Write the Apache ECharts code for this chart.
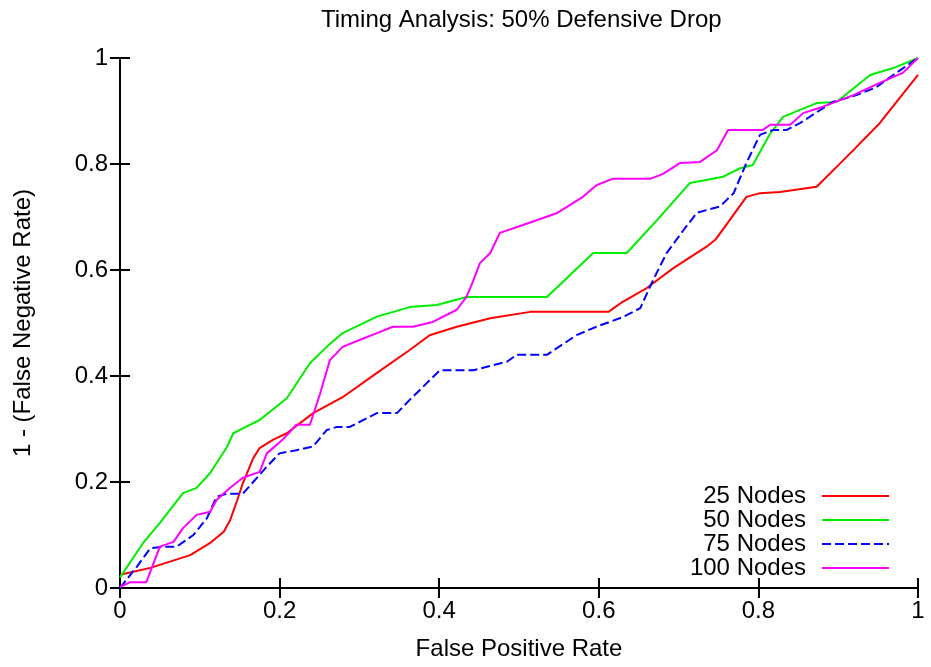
<!DOCTYPE html>
<html>
<head>
<meta charset="utf-8">
<script src="https://cdn.jsdelivr.net/npm/echarts@6/dist/echarts.min.js"></script>
<style>
  html, body { margin: 0; padding: 0; background: #fff; }
  #chart { width: 931px; height: 667px; }
</style>
</head>
<body>
<div id="chart"></div>
<script>
// ROC curves: [false positive rate, 1 - false negative rate]
const nodes25 = [
  [0, 0.025], [0.038, 0.038], [0.088, 0.062], [0.113, 0.085], [0.13, 0.106], [0.138, 0.128],
  [0.147, 0.166], [0.154, 0.198], [0.167, 0.245], [0.175, 0.264], [0.192, 0.28], [0.209, 0.292],
  [0.242, 0.33], [0.279, 0.36], [0.322, 0.406], [0.363, 0.449], [0.388, 0.477], [0.422, 0.493],
  [0.464, 0.509], [0.514, 0.521], [0.612, 0.521], [0.63, 0.54], [0.66, 0.566], [0.693, 0.603],
  [0.735, 0.644], [0.746, 0.657], [0.764, 0.694], [0.785, 0.738], [0.802, 0.745], [0.827, 0.747],
  [0.873, 0.757], [0.915, 0.82], [0.952, 0.877], [1, 0.968]
];
const nodes50 = [
  [0, 0.02], [0.029, 0.085], [0.05, 0.123], [0.079, 0.179], [0.096, 0.189], [0.113, 0.217],
  [0.134, 0.266], [0.142, 0.292], [0.154, 0.301], [0.175, 0.317], [0.209, 0.358], [0.238, 0.424],
  [0.259, 0.455], [0.279, 0.481], [0.322, 0.512], [0.363, 0.53], [0.397, 0.534], [0.434, 0.549],
  [0.535, 0.549], [0.593, 0.632], [0.635, 0.632], [0.673, 0.694], [0.714, 0.764], [0.756, 0.776],
  [0.777, 0.792], [0.793, 0.798], [0.815, 0.858], [0.831, 0.889], [0.852, 0.902], [0.873, 0.915],
  [0.898, 0.917], [0.94, 0.968], [0.969, 0.981], [1, 1]
];
const nodes75 = [
  [0, 0], [0.021, 0.04], [0.038, 0.075], [0.054, 0.078], [0.071, 0.078], [0.092, 0.1],
  [0.109, 0.132], [0.121, 0.172], [0.134, 0.178], [0.154, 0.178], [0.167, 0.2], [0.184, 0.229],
  [0.2, 0.254], [0.221, 0.26], [0.242, 0.267], [0.259, 0.298], [0.272, 0.304], [0.288, 0.304],
  [0.322, 0.33], [0.347, 0.33], [0.363, 0.355], [0.401, 0.411], [0.443, 0.411], [0.485, 0.427],
  [0.497, 0.44], [0.535, 0.44], [0.572, 0.477], [0.597, 0.493], [0.63, 0.511], [0.652, 0.528],
  [0.664, 0.568], [0.673, 0.596], [0.685, 0.632], [0.706, 0.675], [0.723, 0.708], [0.752, 0.72],
  [0.769, 0.745], [0.785, 0.802], [0.802, 0.855], [0.818, 0.864], [0.835, 0.864], [0.852, 0.877],
  [0.893, 0.917], [0.923, 0.93], [0.948, 0.945], [0.969, 0.968], [1, 1]
];
const nodes100 = [
  [0, 0.002], [0.013, 0.011], [0.033, 0.011], [0.05, 0.078], [0.067, 0.087], [0.079, 0.113],
  [0.096, 0.138], [0.113, 0.144], [0.121, 0.166], [0.138, 0.189], [0.154, 0.208], [0.175, 0.219],
  [0.184, 0.254], [0.204, 0.28], [0.221, 0.308], [0.238, 0.308], [0.251, 0.368], [0.263, 0.43],
  [0.279, 0.455], [0.3, 0.468], [0.322, 0.481], [0.342, 0.493], [0.367, 0.493], [0.392, 0.502],
  [0.422, 0.525], [0.434, 0.549], [0.443, 0.581], [0.451, 0.613], [0.464, 0.632], [0.476, 0.67],
  [0.505, 0.685], [0.547, 0.707], [0.58, 0.738], [0.597, 0.76], [0.617, 0.772], [0.664, 0.772],
  [0.68, 0.781], [0.702, 0.802], [0.727, 0.804], [0.748, 0.826], [0.762, 0.864], [0.805, 0.864],
  [0.815, 0.874], [0.84, 0.874], [0.856, 0.896], [0.877, 0.906], [0.919, 0.93], [0.952, 0.953],
  [0.981, 0.972], [1, 1]
];

const seriesNames = ['25 Nodes', '50 Nodes', '75 Nodes', '100 Nodes'];
const seriesData = [nodes25, nodes50, nodes75, nodes100];
const seriesColors = ['#ff0000', '#00ee00', '#0000ff', '#ff00ff'];
const seriesDash = ['solid', 'solid', [9, 4], 'solid'];

const FONT = 'Liberation Sans, Arial, sans-serif';
const FS = 24;

const frameAxis = {
  type: 'value', min: 0, max: 1, interval: 0.2,
  axisLine: { show: true, lineStyle: { color: '#000', width: 2 } },
  axisTick: { show: true, inside: true, length: 10, lineStyle: { color: '#000', width: 2 } },
  splitLine: { show: false }
};

const chart = echarts.init(document.getElementById('chart'), null, { renderer: 'canvas' });
chart.setOption({
  backgroundColor: '#fff',
  animation: false,
  title: {
    text: 'Timing Analysis: 50% Defensive Drop',
    left: 321,
    top: 8,
    padding: 0,
    textStyle: { fontFamily: FONT, fontSize: FS, fontWeight: 'normal', color: '#000' }
  },
  grid: { left: 120, right: 13, top: 58, bottom: 79, containLabel: false, outerBoundsMode: 'none' },
  legend: {
    orient: 'vertical',
    right: 41,
    top: 484,
    padding: 0,
    align: 'right',
    itemWidth: 67,
    itemHeight: 14,
    itemGap: 0,
    data: seriesNames,
    // line samples only, no marker on them
    itemStyle: { color: 'rgba(0,0,0,0)', borderColor: 'rgba(0,0,0,0)', borderWidth: 0 },
    textStyle: { fontFamily: FONT, fontSize: FS, color: '#000', lineHeight: 24, padding: [0, 11, 0, 0] }
  },
  xAxis: [
    Object.assign({}, frameAxis, {
      position: 'bottom',
      name: 'False Positive Rate',
      nameLocation: 'middle',
      nameGap: 49,
      nameTextStyle: { fontFamily: FONT, fontSize: FS, color: '#000' },
      axisLabel: { fontFamily: FONT, fontSize: FS, color: '#000', margin: 11 }
    }),
    Object.assign({}, frameAxis, { position: 'top', axisLabel: { show: false } })
  ],
  yAxis: [
    Object.assign({}, frameAxis, {
      position: 'left',
      name: '1 - (False Negative Rate)',
      nameLocation: 'middle',
      nameGap: 85,
      nameTextStyle: { fontFamily: FONT, fontSize: FS, color: '#000' },
      axisLabel: { fontFamily: FONT, fontSize: FS, color: '#000', margin: 12 }
    }),
    Object.assign({}, frameAxis, { position: 'right', axisLabel: { show: false } })
  ],
  series: seriesNames.map((name, i) => ({
    name: name,
    type: 'line',
    xAxisIndex: 0,
    yAxisIndex: 0,
    data: seriesData[i],
    symbol: 'none',
    showSymbol: false,
    smooth: false,
    color: seriesColors[i],
    lineStyle: { color: seriesColors[i], width: 2, type: seriesDash[i] },
    z: 2 + i
  }))
});
</script>
</body>
</html>
